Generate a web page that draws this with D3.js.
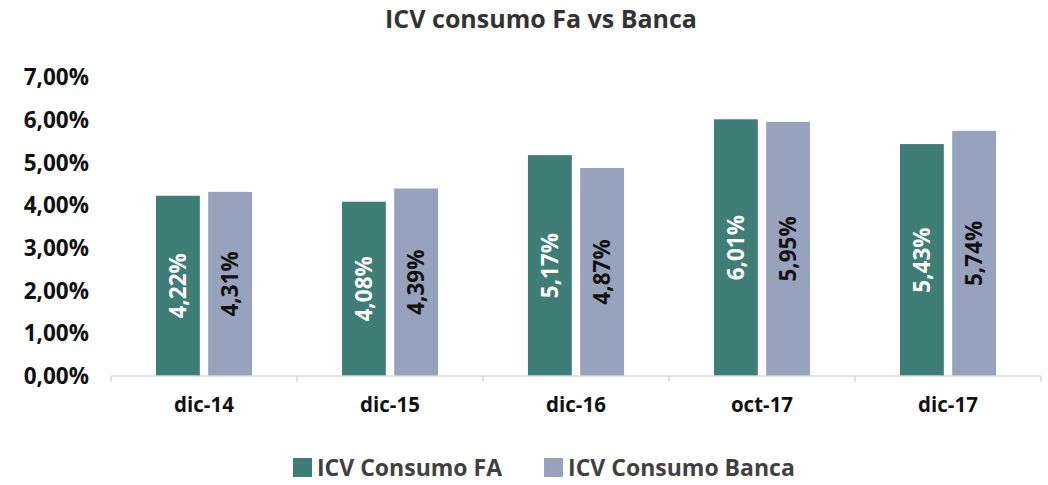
<!DOCTYPE html>
<html lang="es">
<head>
<meta charset="UTF-8" />
<title>ICV consumo Fa vs Banca</title>
<script src="https://d3js.org/d3.v7.min.js"></script>
<style>
  body { margin: 0; background: #fff; }
  text { font-family: "Open Sans", "Noto Sans", sans-serif; }
</style>
</head>
<body>
<script>
// data
var categories = ["dic-14", "dic-15", "dic-16", "oct-17", "dic-17"];
var seriesNames = ["ICV Consumo FA", "ICV Consumo Banca"];
var fa = [4.22, 4.08, 5.17, 6.01, 5.43];
var banca = [4.31, 4.39, 4.87, 5.95, 5.74];
var yTicks = [0, 1, 2, 3, 4, 5, 6, 7];
var colors = ["#3f7d77", "#97a3bd"];
var labelColors = ["#ffffff", "#111111"];

var w = 1048, h = 485;
var margin = {left: 111, right: 7, top: 77, bottom: 109};

var svg = d3.select("body").append("svg")
    .attr("width", w)
    .attr("height", h);

var x = d3.scaleBand()
    .domain(categories)
    .range([margin.left, w - margin.right]);

var x1 = d3.scaleBand()
    .domain([0, 1])
    .range([0, x.bandwidth()])
    .paddingInner(0.16)
    .paddingOuter(0.86);

var y = d3.scaleLinear()
    .domain([0, 7])
    .range([h - margin.bottom, margin.top]);

var fmt = function(v) { return d3.format(".2f")(v).replace(".", ",") + "%"; };

// title
svg.append("text")
    .attr("x", 541).attr("y", 28)
    .attr("text-anchor", "middle")
    .attr("font-size", 25).attr("font-weight", "bold")
    .attr("fill", "#333")
    .text("ICV consumo Fa vs Banca");

// y axis labels (no line)
svg.append("g").selectAll("text")
    .data(yTicks)
    .enter().append("text")
    .attr("x", 89)
    .attr("y", function(d) { return y(d); })
    .attr("dy", "0.36em")
    .attr("text-anchor", "end")
    .attr("font-size", 22.5).attr("font-weight", "bold")
    .attr("fill", "#111")
    .text(function(d) { return fmt(d); });

// bars
var rows = categories.map(function(c, i) { return {cat: c, vals: [fa[i], banca[i]]}; });

var groups = svg.append("g").selectAll("g")
    .data(rows)
    .enter().append("g")
    .attr("transform", function(d) { return "translate(" + x(d.cat) + ",0)"; });

var cells = groups.selectAll("g")
    .data(function(d) { return d.vals.map(function(v, k) { return {v: v, k: k}; }); })
    .enter().append("g");

cells.append("rect")
    .attr("x", function(d) { return x1(d.k); })
    .attr("width", x1.bandwidth())
    .attr("y", function(d) { return y(d.v); })
    .attr("height", function(d) { return y(0) - y(d.v); })
    .attr("fill", function(d) { return colors[d.k]; });

cells.append("text")
    .attr("transform", function(d) {
        var cx = x1(d.k) + x1.bandwidth() / 2;
        var cy = (y(d.v) + y(0)) / 2;
        return "translate(" + cx + "," + cy + ") rotate(-90)";
    })
    .attr("text-anchor", "middle")
    .attr("dy", "0.36em")
    .attr("font-size", 22.5).attr("font-weight", "bold")
    .attr("fill", function(d) { return labelColors[d.k]; })
    .text(function(d) { return fmt(d.v); });

// x axis
var xAxis = svg.append("g")
    .attr("transform", "translate(0," + y(0) + ")");
xAxis.append("line")
    .attr("x1", margin.left).attr("x2", w - margin.right)
    .attr("stroke", "#d9d9d9").attr("stroke-width", 1.5);
xAxis.selectAll(".tk")
    .data(categories.concat(["end"]))
    .enter().append("line")
    .attr("x1", function(d, i) { return margin.left + i * x.step(); })
    .attr("x2", function(d, i) { return margin.left + i * x.step(); })
    .attr("y1", 0).attr("y2", 6)
    .attr("stroke", "#d9d9d9").attr("stroke-width", 1.5);
xAxis.selectAll(".lbl")
    .data(categories)
    .enter().append("text")
    .attr("x", function(d) { return x(d) + x.bandwidth() / 2; })
    .attr("y", 36)
    .attr("text-anchor", "middle")
    .attr("font-size", 20.5).attr("font-weight", "bold")
    .attr("fill", "#111")
    .text(function(d) { return d; });

// legend
var legend = svg.append("g").attr("transform", "translate(293,468)");
var legendX = 0;
seriesNames.forEach(function(name, i) {
    var g = legend.append("g").attr("transform", "translate(" + legendX + ",0)");
    g.append("rect")
        .attr("x", 0).attr("y", -10)
        .attr("width", 19).attr("height", 19)
        .attr("fill", colors[i]);
    var t = g.append("text")
        .attr("x", 24).attr("y", 0)
        .attr("dy", "0.36em")
        .attr("font-size", 23).attr("font-weight", "bold")
        .attr("fill", "#404040")
        .text(name);
    legendX += 24 + t.node().getComputedTextLength() + 42;
});
</script>
</body>
</html>
